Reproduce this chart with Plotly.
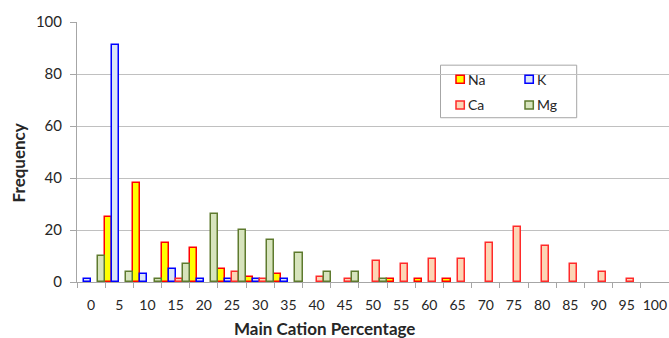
import plotly.graph_objects as go

# ---- data ----
categories = ["0", "5", "10", "15", "20", "25", "30", "35", "40", "45", "50",
              "55", "60", "65", "70", "75", "80", "85", "90", "95", "100"]
na = [0, 25, 38, 15, 13, 5, 2, 3, 0, 0, 0, 1, 1, 1, 0, 0, 0, 0, 0, 0, 0]
k = [1, 91, 3, 5, 1, 1, 1, 1, 0, 0, 0, 0, 0, 0, 0, 0, 0, 0, 0, 0, 0]
ca = [0, 0, 0, 1, 0, 4, 1, 0, 2, 1, 8, 7, 9, 9, 15, 21, 14, 7, 4, 1, 0]
mg = [10, 4, 1, 7, 26, 20, 16, 11, 4, 4, 1, 0, 0, 0, 0, 0, 0, 0, 0, 0, 0]
series_names = ["Na", "K", "Ca", "Mg"]
y_ticks = [0, 20, 40, 60, 80, 100]

# ---- styles ----
fills = {"Na": "#FFFF00", "K": "#DCE6F6", "Ca": "#FCD5B5", "Mg": "#D7E4BD"}
lines = {"Na": "#FF0000", "K": "#0000FF", "Ca": "#FF2A2A", "Mg": "#5E7A2E"}
FONT = "Lato"
TXT = "#262626"
GRID = "#C0C0C0"
AXIS = "#A6A6A6"

W, H = 669, 338
PL, PR, PT, PB = 77, 669, 21.5, 281.7


def xp(px):
    return (px - PL) / (PR - PL)


def yp(py):
    return (PB - py) / (PB - PT)


values = {"Na": na, "K": k, "Ca": ca, "Mg": mg}

fig = go.Figure()
for name in series_names:
    # zero counts draw no bar (as in the reference)
    yv = [v if v else None for v in values[name]]
    fig.add_trace(go.Bar(
        x=categories, y=yv, name=name,
        marker=dict(color=fills[name], line=dict(color=lines[name], width=1.5)),
        showlegend=False,
    ))

fig.update_layout(
    width=W, height=H,
    margin=dict(l=PL, r=W - PR, t=PT, b=H - PB, autoexpand=False),
    barmode="group", bargap=0, bargroupgap=0,
    plot_bgcolor="white", paper_bgcolor="white",
    font=dict(family=FONT, color=TXT),
)
fig.update_xaxes(
    type="category", tickson="boundaries", ticks="outside", ticklen=5,
    tickcolor=AXIS, showline=True, linecolor=AXIS, linewidth=1,
    showgrid=False, tickfont=dict(size=14, color=TXT), ticklabelstandoff=10,
    tickangle=0,
)
fig.update_yaxes(
    range=[0, 100], tickvals=y_ticks, ticks="outside", ticklen=6,
    tickcolor=AXIS, showline=True, linecolor=AXIS, linewidth=1,
    showgrid=True, gridcolor=GRID, gridwidth=1, zeroline=False,
    tickfont=dict(size=15, color=TXT), ticklabelstandoff=5,
)

# axis titles
fig.add_annotation(text="<b>Main Cation Percentage</b>", xref="paper", yref="paper",
                   x=xp(324.7), y=yp(328.5), xanchor="center", yanchor="middle",
                   showarrow=False, font=dict(size=17, family=FONT, color=TXT))
fig.add_annotation(text="<b>Frequency</b>", xref="paper", yref="paper",
                   x=xp(18.5), y=yp(162.5), xanchor="center", yanchor="middle",
                   textangle=-90, showarrow=False,
                   font=dict(size=17, family=FONT, color=TXT))

# legend box (two columns: Na, K / Ca, Mg)
fig.add_shape(type="rect", xref="paper", yref="paper",
              x0=xp(440.5), x1=xp(576.7), y0=yp(117.3), y1=yp(64.7),
              fillcolor="white", line=dict(color=AXIS, width=1), layer="between")
leg_pos = {"Na": (456, 78.7), "K": (525, 78.7), "Ca": (456, 104.5), "Mg": (525, 104.5)}
for name in series_names:
    sx, sy = leg_pos[name]
    fig.add_shape(type="rect", xref="paper", yref="paper",
                  x0=xp(sx), x1=xp(sx + 8.3), y0=yp(sy + 4), y1=yp(sy - 4),
                  fillcolor=fills[name], line=dict(color=lines[name], width=1.5),
                  layer="above")
    fig.add_annotation(text=name, xref="paper", yref="paper",
                       x=xp(sx + 10), y=yp(sy), xanchor="left", yanchor="middle",
                       showarrow=False, font=dict(size=14, family=FONT, color=TXT))

fig.write_html("out.html")
